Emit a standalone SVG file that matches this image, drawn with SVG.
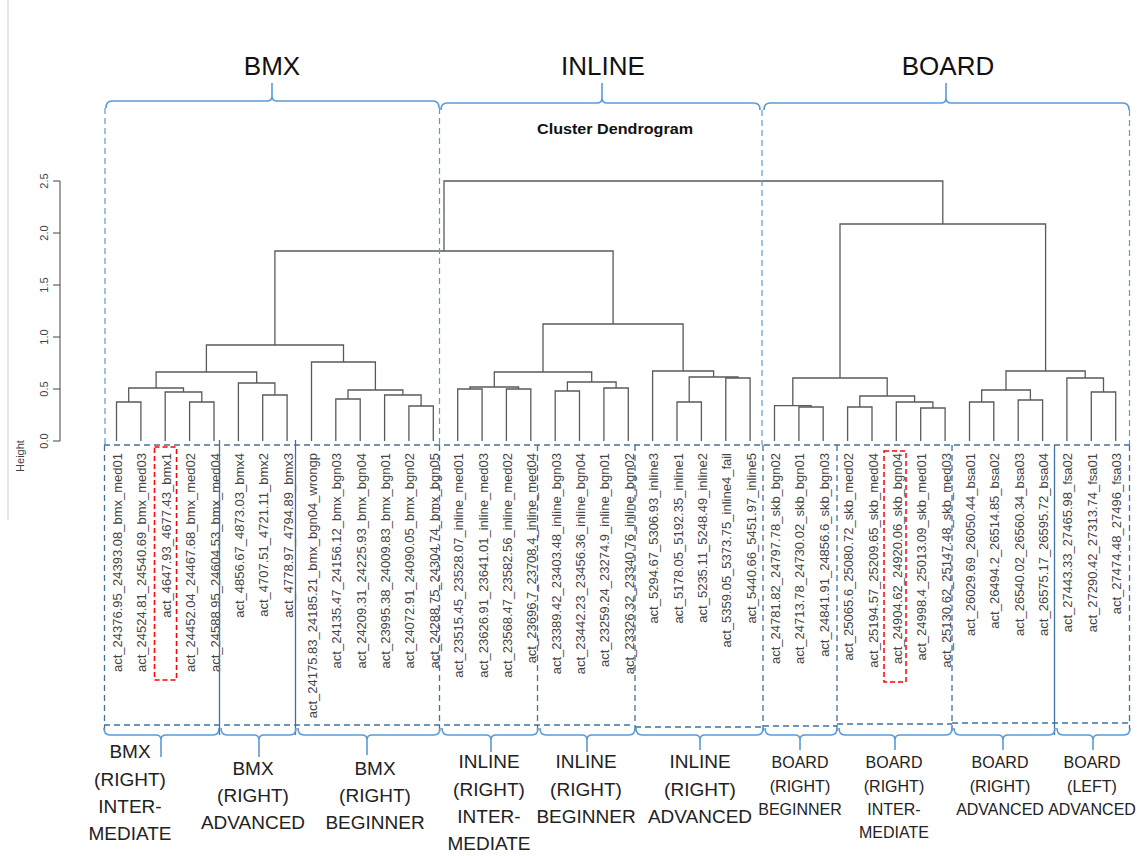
<svg xmlns="http://www.w3.org/2000/svg" width="1146" height="856" viewBox="0 0 1146 856">
<style>
.den{fill:none;stroke:#5a5a5a;stroke-width:1.3}
.lbl{font-family:"Liberation Sans",Arial,sans-serif;font-size:13px;fill:#444;text-anchor:end}
.ax{font-family:"Liberation Sans",Arial,sans-serif;font-size:11px;fill:#444;text-anchor:middle}
.brace{fill:none;stroke:#5b9bd5;stroke-width:1.6}
.vdash{fill:none;stroke:#5b9bd5;stroke-width:1.2;stroke-dasharray:6 4}
.bdash{fill:none;stroke:#41719c;stroke-width:1.3;stroke-dasharray:6 4}
.bsolid{fill:none;stroke:#41719c;stroke-width:1.3}
.red{fill:none;stroke:#ff0000;stroke-width:1.5;stroke-dasharray:5 3}
.title{font-family:"Liberation Sans",Arial,sans-serif;font-size:26px;fill:#111;text-anchor:middle}
.cat{font-family:"Liberation Sans",Arial,sans-serif;font-size:19px;fill:#222;text-anchor:middle}
.cat2{font-family:"Liberation Sans",Arial,sans-serif;font-size:16px;fill:#222;text-anchor:middle}
</style>
<rect width="1146" height="856" fill="#ffffff"/>
<line x1="8" y1="0" x2="8" y2="520" stroke="#cfcfcf" stroke-width="1"/>

<g id="titles">
<text class="title" x="272" y="75">BMX</text>
<text class="title" x="603" y="75">INLINE</text>
<text class="title" x="948" y="75">BOARD</text>
<text x="615" y="134" font-family="Liberation Sans, Arial, sans-serif" font-size="14" font-weight="bold" fill="#111" text-anchor="middle" textLength="156" lengthAdjust="spacingAndGlyphs">Cluster Dendrogram</text>
</g>

<g id="top-braces">
<path class="brace" d="M106,108 Q106,101 112,101 H267 Q272,101 272,96 V83 M272,96 Q272,101 277,101 H433 Q439,101 439,108"/>
<path class="brace" d="M441,110 Q441,103 447,103 H597 Q602,103 602,98 V83 M602,98 Q602,103 607,103 H754 Q760,103 760,110"/>
<path class="brace" d="M764,110 Q764,103 770,103 H941 Q946,103 946,98 V83 M946,98 Q946,103 951,103 H1123 Q1129,103 1129,110"/>
</g>

<g id="axis">
<line x1="60" y1="181" x2="60" y2="441" stroke="#444" stroke-width="1"/>
<path d="M53,181H60M53,233H60M53,285H60M53,337H60M53,389H60M53,441H60" stroke="#444" stroke-width="1" fill="none"/>
<text class="ax" transform="translate(48,181) rotate(-90)">2.5</text>
<text class="ax" transform="translate(48,233) rotate(-90)">2.0</text>
<text class="ax" transform="translate(48,285) rotate(-90)">1.5</text>
<text class="ax" transform="translate(48,337) rotate(-90)">1.0</text>
<text class="ax" transform="translate(48,389) rotate(-90)">0.5</text>
<text class="ax" transform="translate(48,441) rotate(-90)">0.0</text>
<text class="ax" transform="translate(24,456) rotate(-90)">Height</text>
</g>

<g id="connectors">
<path class="den" d="M116.5,441V402H140.9V441"/>
<path class="den" d="M189.6,441V402H214V441"/>
<path class="den" d="M165.2,441V392H201.8V402"/>
<path class="den" d="M128.7,402V388H183.5V392"/>
<path class="den" d="M262.7,441V395H287.1V441"/>
<path class="den" d="M238.4,441V383H274.9V395"/>
<path class="den" d="M156.1,388V372H256.7V383"/>
<path class="den" d="M335.8,441V399H360.2V441"/>
<path class="den" d="M408.9,441V406H433.3V441"/>
<path class="den" d="M384.6,441V395H421.1V406"/>
<path class="den" d="M348,399V390H402.9V395"/>
<path class="den" d="M311.5,441V362H375.4V390"/>
<path class="den" d="M206.4,372V345H343.5V362"/>
<path class="den" d="M457.7,441V389H482.1V441"/>
<path class="den" d="M506.4,441V389H530.8V441"/>
<path class="den" d="M469.9,389V387H518.6V389"/>
<path class="den" d="M555.2,441V391H579.5V441"/>
<path class="den" d="M603.9,441V388H628.3V441"/>
<path class="den" d="M567.4,391V382H616.1V388"/>
<path class="den" d="M494.3,387V372H591.7V382"/>
<path class="den" d="M677,441V402H701.4V441"/>
<path class="den" d="M725.8,441V378H750.1V441"/>
<path class="den" d="M689.2,402V377H738V378"/>
<path class="den" d="M652.6,441V371H713.6V377"/>
<path class="den" d="M543,372V324H683.1V371"/>
<path class="den" d="M274.9,345V251H613.1V324"/>
<path class="den" d="M798.9,441V407H823.2V441"/>
<path class="den" d="M774.5,441V405.7H811.1V407"/>
<path class="den" d="M847.6,441V407H872V441"/>
<path class="den" d="M920.7,441V408H945.1V441"/>
<path class="den" d="M896.3,441V402H932.9V408"/>
<path class="den" d="M859.8,407V396H914.6V402"/>
<path class="den" d="M792.8,405.7V378H887.2V396"/>
<path class="den" d="M969.5,441V402H993.8V441"/>
<path class="den" d="M1018.2,441V400H1042.6V441"/>
<path class="den" d="M981.7,402V390H1030.4V400"/>
<path class="den" d="M1091.3,441V392H1115.7V441"/>
<path class="den" d="M1066.9,441V378H1103.5V392"/>
<path class="den" d="M1006,390V371H1085.2V378"/>
<path class="den" d="M840,378V224H1045.6V371"/>
<path class="den" d="M444,251V181H942.8V224"/>
</g>

<g id="leaf-labels">
<text class="lbl" transform="translate(122,453) rotate(-90)">act_24376.95_24393.08_bmx_med01</text>
<text class="lbl" transform="translate(146.4,453) rotate(-90)">act_24524.81_24540.69_bmx_med03</text>
<text class="lbl" transform="translate(170.7,453) rotate(-90)">act_4647.93_4677.43_bmx1</text>
<text class="lbl" transform="translate(195.1,453) rotate(-90)">act_24452.04_24467.68_bmx_med02</text>
<text class="lbl" transform="translate(219.5,453) rotate(-90)">act_24588.95_24604.53_bmx_med04</text>
<text class="lbl" transform="translate(243.9,453) rotate(-90)">act_4856.67_4873.03_bmx4</text>
<text class="lbl" transform="translate(268.2,453) rotate(-90)">act_4707.51_4721.11_bmx2</text>
<text class="lbl" transform="translate(292.6,453) rotate(-90)">act_4778.97_4794.89_bmx3</text>
<text class="lbl" transform="translate(317,453) rotate(-90)">act_24175.83_24185.21_bmx_bgn04_wrongp</text>
<text class="lbl" transform="translate(341.3,453) rotate(-90)">act_24135.47_24156.12_bmx_bgn03</text>
<text class="lbl" transform="translate(365.7,453) rotate(-90)">act_24209.31_24225.93_bmx_bgn04</text>
<text class="lbl" transform="translate(390.1,453) rotate(-90)">act_23995.38_24009.83_bmx_bgn01</text>
<text class="lbl" transform="translate(414.4,453) rotate(-90)">act_24072.91_24090.05_bmx_bgn02</text>
<text class="lbl" transform="translate(438.8,453) rotate(-90)">act_24288.75_24304.74_bmx_bgn05</text>
<text class="lbl" transform="translate(463.2,453) rotate(-90)">act_23515.45_23528.07_inline_med01</text>
<text class="lbl" transform="translate(487.6,453) rotate(-90)">act_23626.91_23641.01_inline_med03</text>
<text class="lbl" transform="translate(511.9,453) rotate(-90)">act_23568.47_23582.56_inline_med02</text>
<text class="lbl" transform="translate(536.3,453) rotate(-90)">act_23696.7_23708.4_inline_med04</text>
<text class="lbl" transform="translate(560.7,453) rotate(-90)">act_23389.42_23403.48_inline_bgn03</text>
<text class="lbl" transform="translate(585,453) rotate(-90)">act_23442.23_23456.36_inline_bgn04</text>
<text class="lbl" transform="translate(609.4,453) rotate(-90)">act_23259.24_23274.9_inline_bgn01</text>
<text class="lbl" transform="translate(633.8,453) rotate(-90)">act_23326.32_23340.76_inline_bgn02</text>
<text class="lbl" transform="translate(658.1,453) rotate(-90)">act_5294.67_5306.93_inline3</text>
<text class="lbl" transform="translate(682.5,453) rotate(-90)">act_5178.05_5192.35_inline1</text>
<text class="lbl" transform="translate(706.9,453) rotate(-90)">act_5235.11_5248.49_inline2</text>
<text class="lbl" transform="translate(731.3,453) rotate(-90)">act_5359.05_5373.75_inline4_fail</text>
<text class="lbl" transform="translate(755.6,453) rotate(-90)">act_5440.66_5451.97_inline5</text>
<text class="lbl" transform="translate(780,453) rotate(-90)">act_24781.82_24797.78_skb_bgn02</text>
<text class="lbl" transform="translate(804.4,453) rotate(-90)">act_24713.78_24730.02_skb_bgn01</text>
<text class="lbl" transform="translate(828.7,453) rotate(-90)">act_24841.91_24856.6_skb_bgn03</text>
<text class="lbl" transform="translate(853.1,453) rotate(-90)">act_25065.6_25080.72_skb_med02</text>
<text class="lbl" transform="translate(877.5,453) rotate(-90)">act_25194.57_25209.65_skb_med04</text>
<text class="lbl" transform="translate(901.8,453) rotate(-90)">act_24904.62_24920.06_skb_bgn04</text>
<text class="lbl" transform="translate(926.2,453) rotate(-90)">act_24998.4_25013.09_skb_med01</text>
<text class="lbl" transform="translate(950.6,453) rotate(-90)">act_25130.62_25147.48_skb_med03</text>
<text class="lbl" transform="translate(975,453) rotate(-90)">act_26029.69_26050.44_bsa01</text>
<text class="lbl" transform="translate(999.3,453) rotate(-90)">act_26494.2_26514.85_bsa02</text>
<text class="lbl" transform="translate(1023.7,453) rotate(-90)">act_26540.02_26560.34_bsa03</text>
<text class="lbl" transform="translate(1048.1,453) rotate(-90)">act_26575.17_26595.72_bsa04</text>
<text class="lbl" transform="translate(1072.4,453) rotate(-90)">act_27443.33_27465.98_fsa02</text>
<text class="lbl" transform="translate(1096.8,453) rotate(-90)">act_27290.42_27313.74_fsa01</text>
<text class="lbl" transform="translate(1121.2,453) rotate(-90)">act_27474.48_27496_fsa03</text>
</g>

<g id="highlights">
<rect class="red" x="154.5" y="447" width="22" height="233"/>
<rect class="red" x="884" y="451" width="22" height="231"/>
</g>

<g id="group-boxes">
<line class="vdash" x1="105" y1="108" x2="105" y2="445"/>
<line class="vdash" x1="439.5" y1="108" x2="439.5" y2="445"/>
<line class="vdash" x1="762" y1="110" x2="762" y2="445"/>
<line class="vdash" x1="1129.5" y1="110" x2="1129.5" y2="445"/>
<line class="bdash" x1="104" y1="445" x2="1130" y2="445"/>
<line class="bdash" x1="104" y1="725" x2="634" y2="725"/>
<line class="bdash" x1="635" y1="727" x2="763" y2="727"/>
<line class="bdash" x1="763" y1="726" x2="837" y2="726"/>
<line class="bdash" x1="837" y1="724" x2="952" y2="724"/>
<line class="bdash" x1="952" y1="723" x2="1130" y2="723"/>
<line class="bdash" x1="104.5" y1="445" x2="104.5" y2="730"/>
<line class="bsolid" x1="219.5" y1="440" x2="219.5" y2="735"/>
<line class="bsolid" x1="295.5" y1="440" x2="295.5" y2="735"/>
<line class="bdash" x1="439.5" y1="445" x2="439.5" y2="735"/>
<line class="bdash" x1="537.5" y1="445" x2="537.5" y2="735"/>
<line class="bdash" x1="635" y1="445" x2="635" y2="735"/>
<line class="bdash" x1="763" y1="445" x2="763" y2="735"/>
<line class="bdash" x1="837" y1="445" x2="837" y2="735"/>
<line class="bdash" x1="952" y1="445" x2="952" y2="735"/>
<line class="bsolid" x1="1054.5" y1="445" x2="1054.5" y2="735"/>
<line class="bdash" x1="1129.5" y1="445" x2="1129.5" y2="735"/>
</g>

<g id="bottom-braces">
<path class="brace" d="M104,728 Q104,735 110,735 H156 Q161,735 161,740 V757 M161,740 Q161,735 166,735 H213 Q219,735 219,728"/>
<path class="brace" d="M221,728 Q221,735 227,735 H254 Q259,735 259,740 V757 M259,740 Q259,735 264,735 H290 Q296,735 296,728"/>
<path class="brace" d="M298,728 Q298,735 304,735 H362 Q367,735 367,740 V755 M367,740 Q367,735 372,735 H434 Q440,735 440,728"/>
<path class="brace" d="M442,728 Q442,735 448,735 H486 Q491,735 491,740 V752 M491,740 Q491,735 496,735 H532 Q538,735 538,728"/>
<path class="brace" d="M540,728 Q540,735 546,735 H582 Q587,735 587,740 V752 M587,740 Q587,735 592,735 H629 Q635,735 635,728"/>
<path class="brace" d="M636,728 Q636,735 642,735 H695 Q700,735 700,740 V750 M700,740 Q700,735 705,735 H757 Q763,735 763,728"/>
<path class="brace" d="M765,728 Q765,735 771,735 H795 Q800,735 800,740 V750 M800,740 Q800,735 805,735 H831 Q837,735 837,728"/>
<path class="brace" d="M839,728 Q839,735 845,735 H890 Q895,735 895,740 V750 M895,740 Q895,735 900,735 H946 Q952,735 952,728"/>
<path class="brace" d="M954,728 Q954,735 960,735 H998 Q1003,735 1003,740 V750 M1003,740 Q1003,735 1008,735 H1049 Q1055,735 1055,728"/>
<path class="brace" d="M1057,728 Q1057,735 1063,735 H1088 Q1093,735 1093,740 V750 M1093,740 Q1093,735 1098,735 H1124 Q1130,735 1130,728"/>
</g>

<g id="group-labels">
<text class="cat" x="130" y="758">BMX</text>
<text class="cat" x="130" y="786">(RIGHT)</text>
<text class="cat" x="130" y="813">INTER-</text>
<text class="cat" x="130" y="840">MEDIATE</text>
<text class="cat" x="253" y="775">BMX</text>
<text class="cat" x="253" y="802">(RIGHT)</text>
<text class="cat" x="253" y="829">ADVANCED</text>
<text class="cat" x="375" y="775">BMX</text>
<text class="cat" x="375" y="802">(RIGHT)</text>
<text class="cat" x="375" y="829">BEGINNER</text>
<text class="cat" x="489" y="768">INLINE</text>
<text class="cat" x="489" y="796">(RIGHT)</text>
<text class="cat" x="489" y="823">INTER-</text>
<text class="cat" x="489" y="850">MEDIATE</text>
<text class="cat" x="586" y="768">INLINE</text>
<text class="cat" x="586" y="796">(RIGHT)</text>
<text class="cat" x="586" y="823">BEGINNER</text>
<text class="cat" x="700" y="768">INLINE</text>
<text class="cat" x="700" y="796">(RIGHT)</text>
<text class="cat" x="700" y="823">ADVANCED</text>
<text class="cat2" x="800" y="768">BOARD</text>
<text class="cat2" x="800" y="792">(RIGHT)</text>
<text class="cat2" x="800" y="815">BEGINNER</text>
<text class="cat2" x="894" y="768">BOARD</text>
<text class="cat2" x="894" y="792">(RIGHT)</text>
<text class="cat2" x="894" y="815">INTER-</text>
<text class="cat2" x="894" y="838">MEDIATE</text>
<text class="cat2" x="1000" y="768">BOARD</text>
<text class="cat2" x="1000" y="792">(RIGHT)</text>
<text class="cat2" x="1000" y="815">ADVANCED</text>
<text class="cat2" x="1092" y="768">BOARD</text>
<text class="cat2" x="1092" y="792">(LEFT)</text>
<text class="cat2" x="1092" y="815">ADVANCED</text>
</g>
</svg>
